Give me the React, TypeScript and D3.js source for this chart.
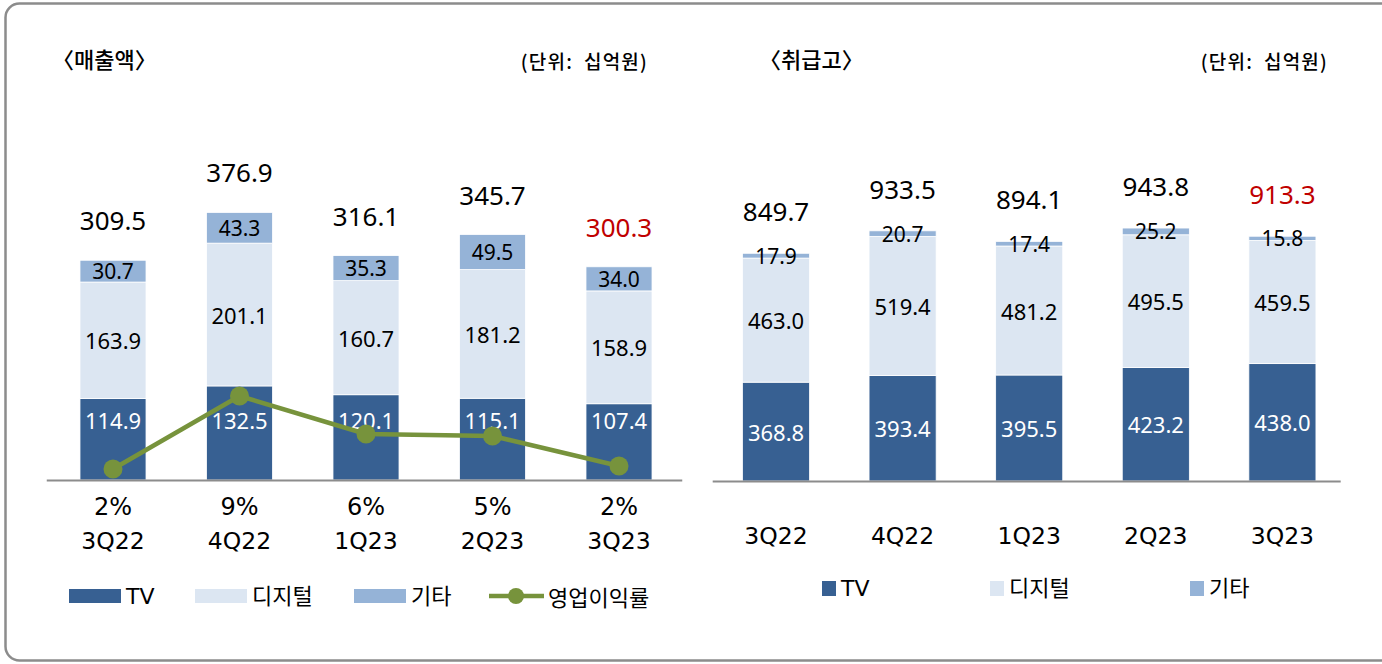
import React from "react";
import * as d3 from "d3";

const categories = ["3Q22", "4Q22", "1Q23", "2Q23", "3Q23"];
const seriesNames = ["TV", "디지털", "기타"];

// 매출액 (십억원)
const salesTV = [114.9, 132.5, 120.1, 115.1, 107.4];
const salesDigital = [163.9, 201.1, 160.7, 181.2, 158.9];
const salesOther = [30.7, 43.3, 35.3, 49.5, 34.0];
const salesTotal = [309.5, 376.9, 316.1, 345.7, 300.3];
// 영업이익률 (%)
const opMargin = [2.1, 9.4, 5.6, 5.4, 2.4];

// 취급고 (십억원)
const billTV = [368.8, 393.4, 395.5, 423.2, 438.0];
const billDigital = [463.0, 519.4, 481.2, 495.5, 459.5];
const billOther = [17.9, 20.7, 17.4, 25.2, 15.8];
const billTotal = [849.7, 933.5, 894.1, 943.8, 913.3];

const colors = ["#376092", "#DCE6F2", "#95B3D7"];
const lineColor = "#77933C";
const red = "#C00000";

const numFont = "'Noto Sans', 'Liberation Sans', sans-serif";
const catFont = "'DejaVu Sans', 'Noto Sans CJK KR', sans-serif";
const krFont = "'Noto Sans CJK KR', 'Noto Sans', sans-serif";

type Row = { cat: string; [k: string]: any };

function buildRows(a: number[], b: number[], c: number[]): Row[] {
  return categories.map((cat, i) => ({ cat, TV: a[i], 디지털: b[i], 기타: c[i] }));
}

function StackedBars({
  rows, totals, x, y, tvLabelFixed, totalGap,
}: {
  rows: Row[]; totals: number[]; x: d3.ScaleBand<string>; y: d3.ScaleLinear<number, number>;
  tvLabelFixed: boolean; totalGap: number;
}) {
  const stack = d3.stack<Row>().keys(seriesNames)(rows as any);
  const bw = x.bandwidth();
  return (
    <g>
      {stack.map((layer, li) => (
        <g key={layer.key}>
          {layer.map((d, i) => (
            <rect
              key={i}
              x={x(categories[i])!}
              y={y(d[1])}
              width={bw}
              height={y(d[0]) - y(d[1])}
              fill={colors[li]}
              stroke="#ffffff"
              strokeWidth={0.8}
            />
          ))}
        </g>
      ))}
      {stack.map((layer, li) =>
        layer.map((d, i) => {
          const cx = x(categories[i])! + bw / 2;
          let cy = (y(d[0]) + y(d[1])) / 2;
          if (li === 0 && tvLabelFixed) cy = y(0) - 60;
          const v = d[1] - d[0];
          return (
            <text
              key={layer.key + i}
              x={cx}
              y={cy}
              textAnchor="middle"
              dominantBaseline="central"
              fontFamily={numFont}
              fontSize={li === 2 ? 21 : 22}
              fill={li === 0 ? "#ffffff" : "#000000"}
            >
              {v.toFixed(1)}
            </text>
          );
        })
      )}
      {totals.map((t, i) => (
        <text
          key={"t" + i}
          x={x(categories[i])! + bw / 2}
          y={y(t) - totalGap}
          textAnchor="middle"
          dominantBaseline="central"
          fontFamily={numFont}
          fontSize={26}
          fill={i === totals.length - 1 ? red : "#000000"}
        >
          {t.toFixed(1)}
        </text>
      ))}
    </g>
  );
}

export default function App() {
  const W = 1382;
  const H = 664;

  const xL = d3.scaleBand<string>().domain(categories).range([49.75, 682.25]).paddingInner(0.478).paddingOuter(0.239);
  const yL = d3.scaleLinear().domain([0, 400]).range([480, 196]);
  const yM = d3.scaleLinear().domain([0, 10]).range([490, 390]);

  const xR = d3.scaleBand<string>().domain(categories).range([712.7, 1345.7]).paddingInner(0.47).paddingOuter(0.235);
  const yR = d3.scaleLinear().domain([0, 1000]).range([481, 213]);

  const salesRows = buildRows(salesTV, salesDigital, salesOther);
  const billRows = buildRows(billTV, billDigital, billOther);

  const line = d3
    .line<number>()
    .x((_, i) => xL(categories[i])! + xL.bandwidth() / 2)
    .y((d) => yM(d));

  const legendL = [
    { name: seriesNames[0], sx: 69, tx: 126 },
    { name: seriesNames[1], sx: 195, tx: 252 },
    { name: seriesNames[2], sx: 354, tx: 411 },
  ];
  const legendR = [
    { name: seriesNames[0], sx: 822, tx: 841 },
    { name: seriesNames[1], sx: 990, tx: 1009 },
    { name: seriesNames[2], sx: 1190, tx: 1209 },
  ];

  const unitStyle = { whiteSpace: "pre" as const };

  return (
    <svg
      width={W}
      height={H}
      viewBox={`0 0 ${W} ${H}`}
      style={{ position: "absolute", left: 0, top: 0, background: "#ffffff" }}
    >
      <rect x={5.5} y={3.5} width={1400} height={657} rx={14} ry={14} fill="#ffffff" stroke="#8c8c8c" strokeWidth={2.5} />

      {/* Titles */}
      <text x={52} y={58} dominantBaseline="central" fontFamily={krFont} fontSize={22} fontWeight={500} fill="#000">
        〈매출액〉
      </text>
      <text x={648} y={60} textAnchor="end" dominantBaseline="central" fontFamily={krFont} fontSize={19} fontWeight={500} letterSpacing={1.2} fill="#000" style={unitStyle}>
        {"(단위:  십억원)"}
      </text>
      <text x={759} y={58} dominantBaseline="central" fontFamily={krFont} fontSize={22} fontWeight={500} fill="#000">
        〈취급고〉
      </text>
      <text x={1328} y={60} textAnchor="end" dominantBaseline="central" fontFamily={krFont} fontSize={19} fontWeight={500} letterSpacing={1.2} fill="#000" style={unitStyle}>
        {"(단위:  십억원)"}
      </text>

      {/* Left chart */}
      <StackedBars rows={salesRows} totals={salesTotal} x={xL} y={yL} tvLabelFixed={true} totalGap={40} />
      <line x1={xL.range()[0] - 3} x2={xL.range()[1]} y1={yL(0) + 0.5} y2={yL(0) + 0.5} stroke="#8c8c8c" strokeWidth={2} />
      <path d={line(opMargin) || ""} fill="none" stroke={lineColor} strokeWidth={4.5} strokeLinejoin="round" />
      {opMargin.map((m, i) => (
        <circle key={i} cx={xL(categories[i])! + xL.bandwidth() / 2} cy={yM(m)} r={9.5} fill={lineColor} />
      ))}
      {opMargin.map((m, i) => (
        <text
          key={"p" + i}
          x={xL(categories[i])! + xL.bandwidth() / 2}
          y={507}
          textAnchor="middle"
          dominantBaseline="central"
          fontFamily={catFont}
          fontSize={24}
          fill="#000"
        >
          {Math.round(m)}%
        </text>
      ))}
      {categories.map((c) => (
        <text
          key={"cl" + c}
          x={xL(c)! + xL.bandwidth() / 2}
          y={541}
          textAnchor="middle"
          dominantBaseline="central"
          fontFamily={catFont}
          fontSize={23.5}
          fill="#000"
        >
          {c}
        </text>
      ))}
      {legendL.map((l, i) => (
        <g key={"ll" + i}>
          <rect x={l.sx} y={589} width={52} height={14} fill={colors[i]} />
          <text x={l.tx} y={596} dominantBaseline="central" fontFamily={catFont} fontSize={22} fill="#000">
            {l.name}
          </text>
        </g>
      ))}
      <line x1={489} x2={544} y1={596} y2={596} stroke={lineColor} strokeWidth={4.5} />
      <circle cx={516} cy={596} r={8} fill={lineColor} />
      <text x={548} y={596} dominantBaseline="central" fontFamily={krFont} fontSize={22} fill="#000">
        영업이익률
      </text>

      {/* Right chart */}
      <StackedBars rows={billRows} totals={billTotal} x={xR} y={yR} tvLabelFixed={false} totalGap={42} />
      <line x1={xR.range()[0]} x2={xR.range()[1] - 5} y1={yR(0) + 0.5} y2={yR(0) + 0.5} stroke="#8c8c8c" strokeWidth={2} />
      {categories.map((c) => (
        <text
          key={"cr" + c}
          x={xR(c)! + xR.bandwidth() / 2}
          y={536}
          textAnchor="middle"
          dominantBaseline="central"
          fontFamily={catFont}
          fontSize={23.5}
          fill="#000"
        >
          {c}
        </text>
      ))}
      {legendR.map((l, i) => (
        <g key={"lr" + i}>
          <rect x={l.sx} y={581} width={14} height={15} fill={colors[i]} />
          <text x={l.tx} y={588} dominantBaseline="central" fontFamily={catFont} fontSize={22} fill="#000">
            {l.name}
          </text>
        </g>
      ))}
    </svg>
  );
}
